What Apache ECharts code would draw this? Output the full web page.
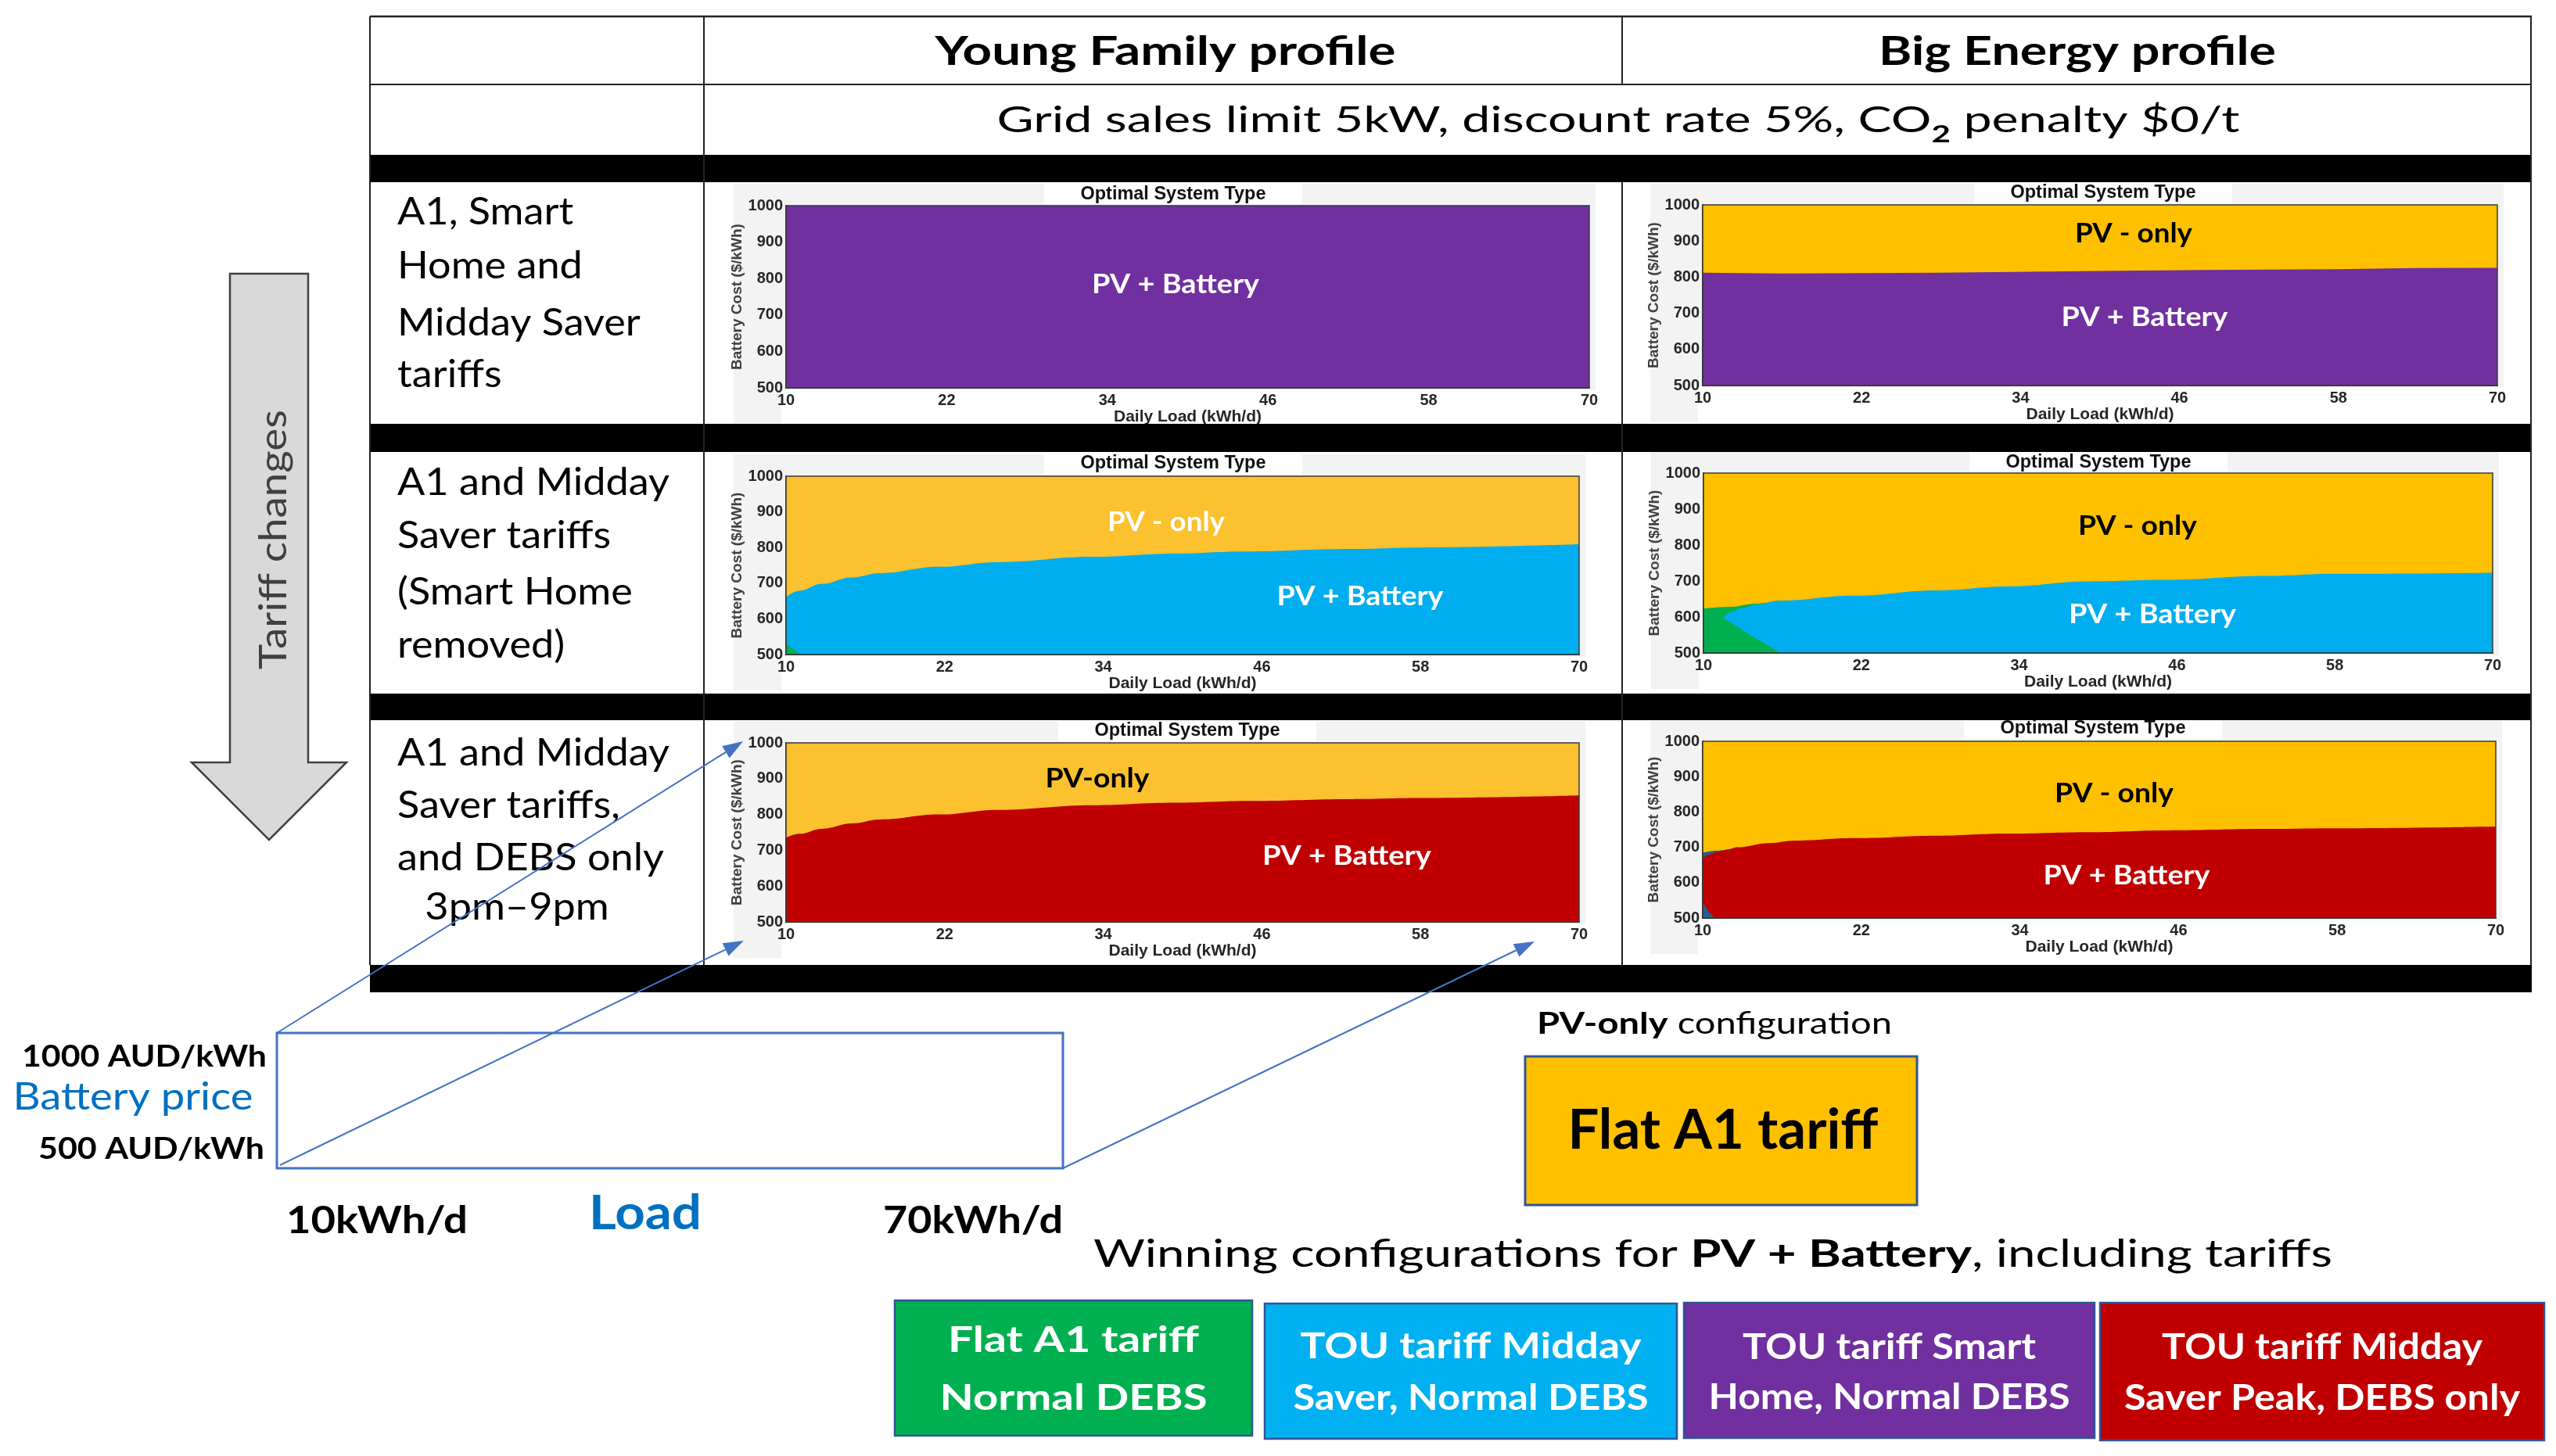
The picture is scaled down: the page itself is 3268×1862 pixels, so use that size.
<!DOCTYPE html>
<html><head><meta charset="utf-8">
<script src="https://cdn.jsdelivr.net/npm/echarts@6/dist/echarts.min.js"></script>
<style>html,body{margin:0;padding:0;background:#fff}#c{width:3268px;height:1862px}</style>
</head><body><div id="c"></div>
<script>
// ================= DATA =================
const colHeaders = ["Young Family profile", "Big Energy profile"];
const subtitleParts = ["Grid sales limit 5kW, discount rate 5%, CO", "2", " penalty $0/t"];
const rowLabels = [
  ["A1, Smart", "Home and", "Midday Saver", "tariffs"],
  ["A1 and Midday", "Saver tariffs", "(Smart Home", "removed)"],
  ["A1 and Midday", "Saver tariffs,", "and DEBS only", "3pm\u20139pm"]
];
const loadTicks = [10, 22, 34, 46, 58, 70];
const loadRange = [10, 70];
const costRange = [500, 1000];
const pvOnlyTopLoad = [10, 70];
const pvOnlyTopBatt = [1000, 1000];

// Row 1: A1, Smart Home and Midday Saver
const yf1Load = [10, 70];
const yf1Batt = [1000, 1000];
const be1Load = [10, 16, 28, 40, 48, 58, 64, 70];
const be1Batt = [812, 810, 812, 817, 820, 822, 825, 826];

// Row 2: A1 and Midday Saver
const yf2Load = [10, 11, 12.7, 15, 17.1, 21.6, 26, 33.2, 39.4, 44.7, 52.8, 57.9, 70];
const yf2Batt = [661, 679, 698, 716, 728, 746, 759, 774, 783, 789, 796, 800, 809];
const yf2FlatLoad = [10, 11.1];
const yf2FlatBatt = [530, 500];
const be2Load = [10, 12, 14, 15.7, 21.5, 27.7, 33.1, 39.4, 45.2, 52.8, 57.9, 70];
const be2Batt = [623, 628, 637, 645, 659, 674, 685, 699, 703, 714, 720, 723];
const be2FlatStripEnd = 15.7;
const be2TouTipLoad = [11.5, 12.2, 12.8, 14];
const be2TouTipBatt = [598, 614, 624, 634];
const be2FlatLowLoad = [10, 11.5, 13.5, 15.9];
const be2FlatLowBatt = [623, 598, 551, 500];

// Row 3: A1 and Midday Saver, DEBS only 3pm-9pm
const yf3Load = [10, 11, 12.7, 15, 17.1, 21.6, 26, 33.2, 39.4, 45.2, 52.8, 57.9, 70];
const yf3Batt = [735, 746, 760, 775, 786, 800, 813, 826, 833, 838, 843, 846, 853];
const be3Load = [10, 11, 12.6, 15, 17, 21.5, 27.7, 33.1, 39.3, 45.1, 52.6, 57.8, 70];
const be3Batt = [684, 690, 700, 712, 719, 726, 733, 739, 743, 748, 752, 754, 759];
const be3NavyEnd = 12.6;
const be3PeakEdgeLoad = [10, 10.5, 11.2, 12];
const be3PeakEdgeBatt = [668, 680, 688, 694];
const be3NavyLowLoad = [10, 10.4, 10.9];
const be3NavyLowBatt = [545, 520, 500];

const legendLabels = [
  ["Flat A1 tariff", "Normal DEBS"],
  ["TOU tariff Midday", "Saver, Normal DEBS"],
  ["TOU tariff Smart", "Home, Normal DEBS"],
  ["TOU tariff Midday", "Saver Peak, DEBS only"]
];
const legendColors = ['#00b050', '#00b0f0', '#7030a0', '#c00000'];

// ================= STYLE / LAYOUT =================
const FAM = "Lato, 'Open Sans', sans-serif";
const AX = "'Liberation Sans', Arial, sans-serif";
const PURPLE = '#7030a0', YEL1 = '#fbc12e', YEL2 = '#ffc000', CYAN = '#00aeef',
      GREEN = '#00b050', RED = '#c00000', NAVY = '#255e91';

const zip = (xs, ys) => xs.map((x, i) => [x, ys[i]]);

const panels = [
  { rect: [1005, 263, 1027, 233], title: [1500, 249],
    layers: [{ c: PURPLE, d: zip(yf1Load, yf1Batt) }],
    labels: [['PV + Battery', 1503, 364, 214, '#fff']] },
  { rect: [2177, 262, 1016, 231], title: [2689, 247],
    layers: [{ c: YEL2, d: zip(pvOnlyTopLoad, pvOnlyTopBatt) }, { c: PURPLE, d: zip(be1Load, be1Batt) }],
    labels: [['PV - only', 2728, 299, 150, '#000'], ['PV + Battery', 2742, 406, 213, '#fff']] },
  { rect: [1005, 609, 1014, 228], title: [1500, 593],
    layers: [{ c: YEL1, d: zip(pvOnlyTopLoad, pvOnlyTopBatt) }, { c: CYAN, d: zip(yf2Load, yf2Batt), s: true },
             { c: GREEN, d: zip(yf2FlatLoad, yf2FlatBatt) }],
    labels: [['PV - only', 1491, 668, 150, '#fff'], ['PV + Battery', 1739, 763, 213, '#fff']] },
  { rect: [2178, 605, 1009, 230], title: [2683, 592],
    layers: [{ c: YEL2, d: zip(pvOnlyTopLoad, pvOnlyTopBatt) },
             { c: GREEN, d: zip(be2Load, be2Batt).filter(p => p[0] <= be2FlatStripEnd), s: true },
             { c: CYAN, d: zip(be2TouTipLoad, be2TouTipBatt).concat(zip(be2Load, be2Batt).filter(p => p[0] >= be2FlatStripEnd)), s: true },
             { c: GREEN, d: zip(be2FlatLowLoad, be2FlatLowBatt) }],
    labels: [['PV - only', 2733, 673, 152, '#000'], ['PV + Battery', 2752, 786, 214, '#fff']] },
  { rect: [1005, 950, 1014, 229], title: [1518, 935],
    layers: [{ c: YEL1, d: zip(pvOnlyTopLoad, pvOnlyTopBatt) }, { c: RED, d: zip(yf3Load, yf3Batt), s: true }],
    labels: [['PV-only', 1403, 996, 133, '#000'], ['PV + Battery', 1722, 1095, 216, '#fff']] },
  { rect: [2177, 948, 1014, 226], title: [2676, 932],
    layers: [{ c: YEL2, d: zip(pvOnlyTopLoad, pvOnlyTopBatt) },
             { c: NAVY, d: zip(be3Load, be3Batt).filter(p => p[0] <= be3NavyEnd), s: true },
             { c: RED, d: zip(be3PeakEdgeLoad, be3PeakEdgeBatt).concat(zip(be3Load, be3Batt).filter(p => p[0] >= be3NavyEnd)), s: true },
             { c: NAVY, d: zip(be3NavyLowLoad, be3NavyLowBatt) }],
    labels: [['PV - only', 2703, 1015, 152, '#000'], ['PV + Battery', 2719, 1120, 213, '#fff']] }
];

// ================= GRAPHIC HELPERS =================
const G = [];
const mctx = document.createElement('canvas').getContext('2d');
const fnt = (size, weight, fam) => `${weight || 'normal'} ${size}px ${fam || FAM}`;
const mw = (t, f) => { mctx.font = f; return mctx.measureText(t).width; };
function rect(x, y, w, h, fill, stroke, lw, z) {
  G.push({ type: 'rect', z: z == null ? 1 : z, silent: true, shape: { x, y, width: w, height: h },
    style: { fill: fill || 'none', stroke: stroke || null, lineWidth: lw || 0 } });
}
function line(x1, y1, x2, y2, stroke, lw, z) {
  G.push({ type: 'line', z: z == null ? 30 : z, silent: true, shape: { x1, y1, x2, y2 }, style: { stroke, lineWidth: lw } });
}
function poly(points, fill, stroke, lw, z) {
  G.push({ type: 'polygon', z: z == null ? 30 : z, silent: true, shape: { points }, style: { fill, stroke: stroke || null, lineWidth: lw || 0 } });
}
function text(t, x, y, o) {
  const f = fnt(o.size, o.weight, o.fam);
  let sx = o.sx || 1;
  if (o.w) sx = o.w / mw(t, f);
  const al = o.align || 'center';
  G.push({ type: 'text', z: o.z || 40, silent: true, x, y, rotation: o.rot || 0, scaleX: sx, scaleY: 1,
    style: { text: t, font: f, fill: o.color || '#000', textAlign: al, textVerticalAlign: 'middle', align: al, verticalAlign: 'middle' } });
  return sx;
}
function segs(list, x, y, o) {
  const widths = list.map(s => mw(s.t, fnt(s.size || o.size, s.weight, o.fam)));
  const total = widths.reduce((a, b) => a + b, 0);
  const sx = o.w ? o.w / total : 1;
  let cx = o.align === 'left' ? x : x - total * sx / 2;
  list.forEach((s, i) => {
    text(s.t, cx, y + (s.dy || 0), { size: s.size || o.size, weight: s.weight, fam: o.fam, color: s.color || o.color, align: 'left', sx });
    cx += widths[i] * sx;
  });
}
function arrowLine(x1, y1, x2, y2, color) {
  const dx = x2 - x1, dy = y2 - y1, L = Math.hypot(dx, dy), ux = dx / L, uy = dy / L;
  const hl = 26, hw = 9, bx = x2 - ux * hl, by = y2 - uy * hl;
  line(x1, y1, bx, by, color, 2, 45);
  poly([[x2, y2], [bx - uy * hw, by + ux * hw], [bx + uy * hw, by - ux * hw]], color, null, 0, 45);
}

// ================= TABLE =================
const TL = 473, TR = 3237;
[[198, 35], [542, 36], [887, 34], [1234, 35]].forEach(b => rect(TL, b[0], TR - TL, b[1], '#000', null, 0, 30));
line(TL, 21, TR, 21, '#222', 2.5);
line(TL, 108, TR, 108, '#222', 2);
line(TL, 21, TL, 1234, '#222', 2);
line(900, 21, 900, 1234, '#222', 2);
line(2074, 21, 2074, 108, '#222', 2);
line(2074, 233, 2074, 1234, '#222', 2);
line(TR - 1, 21, TR - 1, 1234, '#222', 2);

text(colHeaders[0], 1490, 66, { size: 52, weight: 'bold', w: 589 });
text(colHeaders[1], 2656, 66, { size: 52, weight: 'bold', w: 508 });
segs([{ t: subtitleParts[0] }, { t: subtitleParts[1], size: 30, dy: 18, weight: 'bold' }, { t: subtitleParts[2] }],
  2069, 154, { size: 46, w: 1589 });

// row labels
const labFont = 48;
const labSx = 348 / mw('A1 and Midday', fnt(labFont));
const rowLineY = [[272, 341, 414, 480], [618, 686, 758, 826], [964, 1031, 1098, 1161]];
rowLabels.forEach((lines, r) => lines.forEach((t, k) => {
  if (r === 2 && k === 3) text(t, 661, rowLineY[r][k], { size: labFont, sx: labSx });
  else text(t, 508, rowLineY[r][k], { size: labFont, align: 'left', sx: labSx });
}));

// Tariff changes arrow
poly([[294, 350], [394, 350], [394, 975], [443, 975], [344, 1074], [245, 975], [294, 975]], '#d9d9d9', '#404040', 2.5, 20);
text('Tariff changes', 351, 690, { size: 48, color: '#404040', rot: Math.PI / 2, w: 332 });

// panel backgrounds, titles, frames, labels
panels.forEach(p => {
  const [l, t, w, h] = p.rect;
  const gx = l - 67, gy = t - 28, gw = w + 75, gh = h + 74;
  rect(gx, gy, gw, gh, '#f3f3f3', null, 0, 1);
  rect(p.title[0] - 165, gy, 330, t - gy - 2, '#fff', null, 0, 2);
  rect(l - 6, t + h + 3, w + 14, gy + gh - (t + h + 3), '#fff', null, 0, 2);
  rect(l, t, w, h, 'none', '#3a3a3a', 1.5, 20);
  text('Optimal System Type', p.title[0], p.title[1], { size: 23, weight: 'bold', fam: AX, w: 237, color: '#111' });
  p.labels.forEach(lb => text(lb[0], lb[1], lb[2], { size: 34, weight: 'bold', w: lb[3], color: lb[4] }));
});

// ================= BOTTOM SCHEMATIC =================
rect(354, 1321, 1005, 173, 'none', '#4472c4', 3, 40);
arrowLine(354, 1321, 950, 948, '#4472c4');
arrowLine(358, 1490, 951, 1203, '#4472c4');
arrowLine(1359, 1494, 1962, 1204, '#4472c4');
text('1000 AUD/kWh', 341, 1352, { size: 38, weight: 'bold', align: 'right', w: 313 });
text('Battery price', 170, 1404, { size: 48, color: '#0070c0', w: 307 });
text('500 AUD/kWh', 338, 1470, { size: 38, weight: 'bold', align: 'right', w: 289 });
text('10kWh/d', 482, 1562, { size: 48, weight: 'bold', w: 232 });
text('Load', 825, 1552, { size: 62, weight: 'bold', color: '#0070c0', w: 144 });
text('70kWh/d', 1244, 1562, { size: 48, weight: 'bold', w: 230 });

segs([{ t: 'PV-only', weight: 'bold' }, { t: ' configuration' }], 1965, 1310, { size: 38, w: 454, align: 'left' });
rect(1950, 1351, 501, 190, YEL2, '#2f5597', 3, 30);
text('Flat A1 tariff', 2203, 1446, { size: 70, weight: 'bold', w: 397 });
segs([{ t: 'Winning configurations for ' }, { t: 'PV + Battery', weight: 'bold' }, { t: ', including tariffs' }],
  1398, 1605, { size: 48, w: 1584, align: 'left' });

const legendBoxes = [[1144, 1663, 457, 173], [1617, 1667, 527, 173], [2153, 1666, 525, 173], [2685, 1666, 568, 176]];
const legendLineY = [[1714, 1788], [1722, 1788], [1723, 1787], [1723, 1788]];
const legendLineW = [[321, 342], [436, 454], [375, 462], [410, 506]];
legendLabels.forEach((lines, i) => {
  const b = legendBoxes[i];
  rect(b[0], b[1], b[2], b[3], legendColors[i], '#2f5597', 2.5, 30);
  lines.forEach((t, k) => text(t, b[0] + b[2] / 2, legendLineY[i][k], { size: 45, weight: 'bold', color: '#fff', w: legendLineW[i][k] }));
});

// ================= ECHARTS OPTION =================
const axisTxt = { fontFamily: AX, fontWeight: 'bold', fontSize: 20, color: '#262626' };
const series = [];
panels.forEach((p, i) => {
  p.layers.forEach((ly, k) => {
    series.push({
      type: 'line', xAxisIndex: i, yAxisIndex: i, data: ly.d, z: 6 + k,
      symbol: 'none', showSymbol: false, silent: true,
      smooth: ly.s ? 0.4 : false, smoothMonotone: 'x',
      lineStyle: { width: 0 }, areaStyle: { color: ly.c, opacity: 1, origin: 'start' }
    });
  });
});

const option = {
  animation: false,
  backgroundColor: '#fff',
  grid: panels.map(p => ({ left: p.rect[0], top: p.rect[1], width: p.rect[2], height: p.rect[3] })),
  xAxis: panels.map((p, i) => ({
    gridIndex: i, type: 'value', min: loadRange[0], max: loadRange[1], z: 5,
    axisLine: { show: true, lineStyle: { color: '#222', width: 2 } },
    axisTick: { show: false }, splitLine: { show: false },
    axisLabel: Object.assign({ customValues: loadTicks, margin: 6, formatter: v => String(v) }, axisTxt),
    name: 'Daily Load (kWh/d)', nameLocation: 'middle', nameGap: 24,
    nameTextStyle: { fontFamily: AX, fontWeight: 'bold', fontSize: 21, color: '#262626' }
  })),
  yAxis: panels.map((p, i) => ({
    gridIndex: i, type: 'value', min: costRange[0], max: costRange[1], interval: 100, z: 5,
    axisLine: { show: true, lineStyle: { color: '#222', width: 2 } },
    axisTick: { show: false }, splitLine: { show: false },
    axisLabel: Object.assign({ margin: 4, formatter: v => String(v) }, axisTxt),
    name: 'Battery Cost ($/kWh)', nameLocation: 'middle', nameRotate: 90, nameGap: 50,
    nameTextStyle: { fontFamily: AX, fontWeight: 'bold', fontSize: 19, color: '#404040' }
  })),
  series,
  graphic: { elements: G }
};

const chart = echarts.init(document.getElementById('c'), null, { renderer: 'canvas', width: 3268, height: 1862 });
chart.setOption(option);
</script></body></html>
